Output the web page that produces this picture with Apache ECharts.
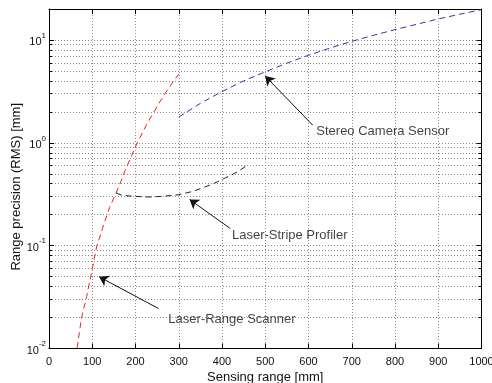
<!DOCTYPE html>
<html>
<head>
<meta charset="utf-8">
<script src="https://cdn.jsdelivr.net/npm/echarts@6/dist/echarts.min.js"></script>
<style>
html,body{margin:0;padding:0;background:#fff;}
#chart{width:492px;height:383px;}
</style>
</head>
<body>
<div id="chart"></div>
<script>
// ---- Data ----
const laserRangeX = [65, 75, 87, 100, 110, 125, 140, 153, 166, 176, 188, 199, 211, 224, 238, 253, 268, 284, 300];
const laserRangeY = [0.0101, 0.0196, 0.032, 0.059, 0.097, 0.153, 0.235, 0.31, 0.417, 0.54, 0.70, 0.90, 1.14, 1.46, 1.85, 2.37, 3.0, 3.76, 4.65];

const stripeX = [155, 170, 195, 230, 265, 300, 330, 350, 380, 405, 435, 460];
const stripeY = [0.325, 0.308, 0.302, 0.297, 0.302, 0.313, 0.335, 0.358, 0.40, 0.45, 0.52, 0.61];

const stereoX = [300, 350, 400, 450, 500, 550, 600, 650, 700, 750, 800, 850, 900, 950, 1000];
const stereoY = [1.78, 2.42, 3.15, 4.0, 4.9, 5.95, 7.1, 8.35, 9.7, 11.1, 12.6, 14.2, 16.0, 17.8, 19.7];

const minorGridValues = [0.02, 0.03, 0.04, 0.05, 0.06, 0.07, 0.08, 0.09,
                         0.2, 0.3, 0.4, 0.5, 0.6, 0.7, 0.8, 0.9,
                         2, 3, 4, 5, 6, 7, 8, 9];

const annotationTexts = ['Stereo Camera Sensor', 'Laser-Stripe Profiler', 'Laser-Range Scanner'];
const annotationTextX = [618, 423, 276];
const annotationTextY = [1.30, 0.126, 0.0191];
const arrowTailX = [610, 419, 253];
const arrowTailY = [1.48, 0.147, 0.0245];
const arrowTipX = [500, 325, 116];
const arrowTipY = [4.45, 0.281, 0.0498];

const xAxisTitle = 'Sensing range [mm]';
const yAxisTitle = 'Range precision (RMS) [mm]';

// ---- Chart ----
const FONT = '"Liberation Sans", Arial, Helvetica, sans-serif';
const zip = (xs, ys) => xs.map((x, i) => [x, ys[i]]);

const minorGridLines = minorGridValues.map(v => ({ yAxis: v }));
const minorTickSegments = [];
minorGridValues.forEach(v => {
  minorTickSegments.push([{ coord: [0, v] }, { coord: [7, v] }]);
  minorTickSegments.push([{ coord: [993, v] }, { coord: [1000, v] }]);
});
const arrowLines = arrowTipX.map((_, i) => [
  { coord: [arrowTailX[i], arrowTailY[i]] },
  { coord: [arrowTipX[i], arrowTipY[i]] }
]);
const textPoints = annotationTexts.map((t, i) => [annotationTextX[i], annotationTextY[i], t]);

const chart = echarts.init(document.getElementById('chart'), null, { renderer: 'canvas' });

const commonY = {
  type: 'log', logBase: 10, min: 0.01, max: 20
};

chart.setOption({
  animation: false,
  backgroundColor: '#fff',
  grid: { left: 49, right: 10.5, top: 9, bottom: 34.5, containLabel: false, outerBoundsMode: 'none' },
  xAxis: [
    {
      type: 'value', min: 0, max: 1000, interval: 100, position: 'bottom',
      axisLine: { show: true, onZero: false, lineStyle: { color: '#000', width: 1 } },
      axisTick: { show: true, inside: true, length: 5, lineStyle: { color: '#000' } },
      axisLabel: { fontSize: 11, color: '#111', margin: 8, fontFamily: FONT, formatter: v => String(v) },
      splitLine: { show: true, lineStyle: { type: [1, 2], color: '#8a8a8a', width: 1 } },
      name: xAxisTitle, nameLocation: 'middle', nameGap: 22, nameMoveOverlap: false,
      nameTextStyle: { fontSize: 13, color: '#111', fontFamily: FONT }
    },
    {
      type: 'value', min: 0, max: 1000, interval: 100, position: 'top',
      axisLine: { show: true, onZero: false, lineStyle: { color: '#000', width: 1 } },
      axisTick: { show: true, inside: true, length: 5, lineStyle: { color: '#000' } },
      axisLabel: { show: false },
      splitLine: { show: false }
    }
  ],
  yAxis: [
    Object.assign({}, commonY, {
      position: 'left',
      axisLine: { show: true, onZero: false, lineStyle: { color: '#000', width: 1 } },
      axisTick: { show: true, inside: true, length: 5, lineStyle: { color: '#000' } },
      axisLabel: {
        margin: 3, color: '#111', fontFamily: FONT,
        formatter: function (v) {
          const l = Math.log10(v);
          const e = Math.round(l);
          if (Math.abs(l - e) > 1e-6) return '';
          return '{b|10}{e|' + e + '}';
        },
        rich: {
          b: { fontSize: 11, color: '#111', fontFamily: FONT, padding: [4, 0, 0, 0] },
          e: { fontSize: 8, color: '#111', fontFamily: FONT, padding: [0, 0, 9, 0] }
        }
      },
      splitLine: { show: true, lineStyle: { type: [1, 2], color: '#8a8a8a', width: 1 } },
      name: yAxisTitle, nameLocation: 'middle', nameGap: 26, nameMoveOverlap: false,
      nameTextStyle: { fontSize: 13, color: '#111', fontFamily: FONT, padding: [0, 16, 0, 0] }
    }),
    Object.assign({}, commonY, {
      position: 'right',
      axisLine: { show: true, onZero: false, lineStyle: { color: '#000', width: 1 } },
      axisTick: { show: true, inside: true, length: 5, lineStyle: { color: '#000' } },
      axisLabel: { show: false },
      splitLine: { show: false }
    })
  ],
  series: [
    {
      name: 'grid-minor', type: 'line', data: [], silent: true,
      markLine: {
        silent: true, symbol: ['none', 'none'], label: { show: false },
        lineStyle: { type: [1, 2], color: '#8a8a8a', width: 1 },
        data: minorGridLines, z: 0
      }
    },
    {
      name: 'minor-ticks', type: 'line', data: [], silent: true,
      markLine: {
        silent: true, symbol: ['none', 'none'], label: { show: false },
        lineStyle: { type: 'solid', color: '#000', width: 1 },
        data: minorTickSegments
      }
    },
    {
      name: 'Laser-Range Scanner', type: 'line', data: zip(laserRangeX, laserRangeY),
      showSymbol: false, smooth: false, clip: true,
      lineStyle: { color: '#f02020', width: 1, type: [6, 4] }
    },
    {
      name: 'Laser-Stripe Profiler', type: 'line', data: zip(stripeX, stripeY),
      showSymbol: false, smooth: false,
      lineStyle: { color: '#222', width: 1, type: [6, 4] }
    },
    {
      name: 'Stereo Camera Sensor', type: 'line', data: zip(stereoX, stereoY),
      showSymbol: false, smooth: false,
      lineStyle: { color: '#3333a8', width: 1, type: [6, 4] }
    },
    {
      name: 'arrows', type: 'line', data: [], silent: true,
      markLine: {
        silent: true, symbol: ['none', 'arrow'], symbolSize: 9, label: { show: false },
        lineStyle: { type: 'solid', color: '#111', width: 1 },
        data: arrowLines
      }
    },
    {
      name: 'labels', type: 'scatter', data: textPoints, symbolSize: 0, silent: true,
      label: {
        show: true, position: 'right', distance: 0,
        formatter: p => p.value[2],
        fontSize: 13, color: '#111', fontFamily: FONT
      }
    }
  ]
});
</script>
</body>
</html>
